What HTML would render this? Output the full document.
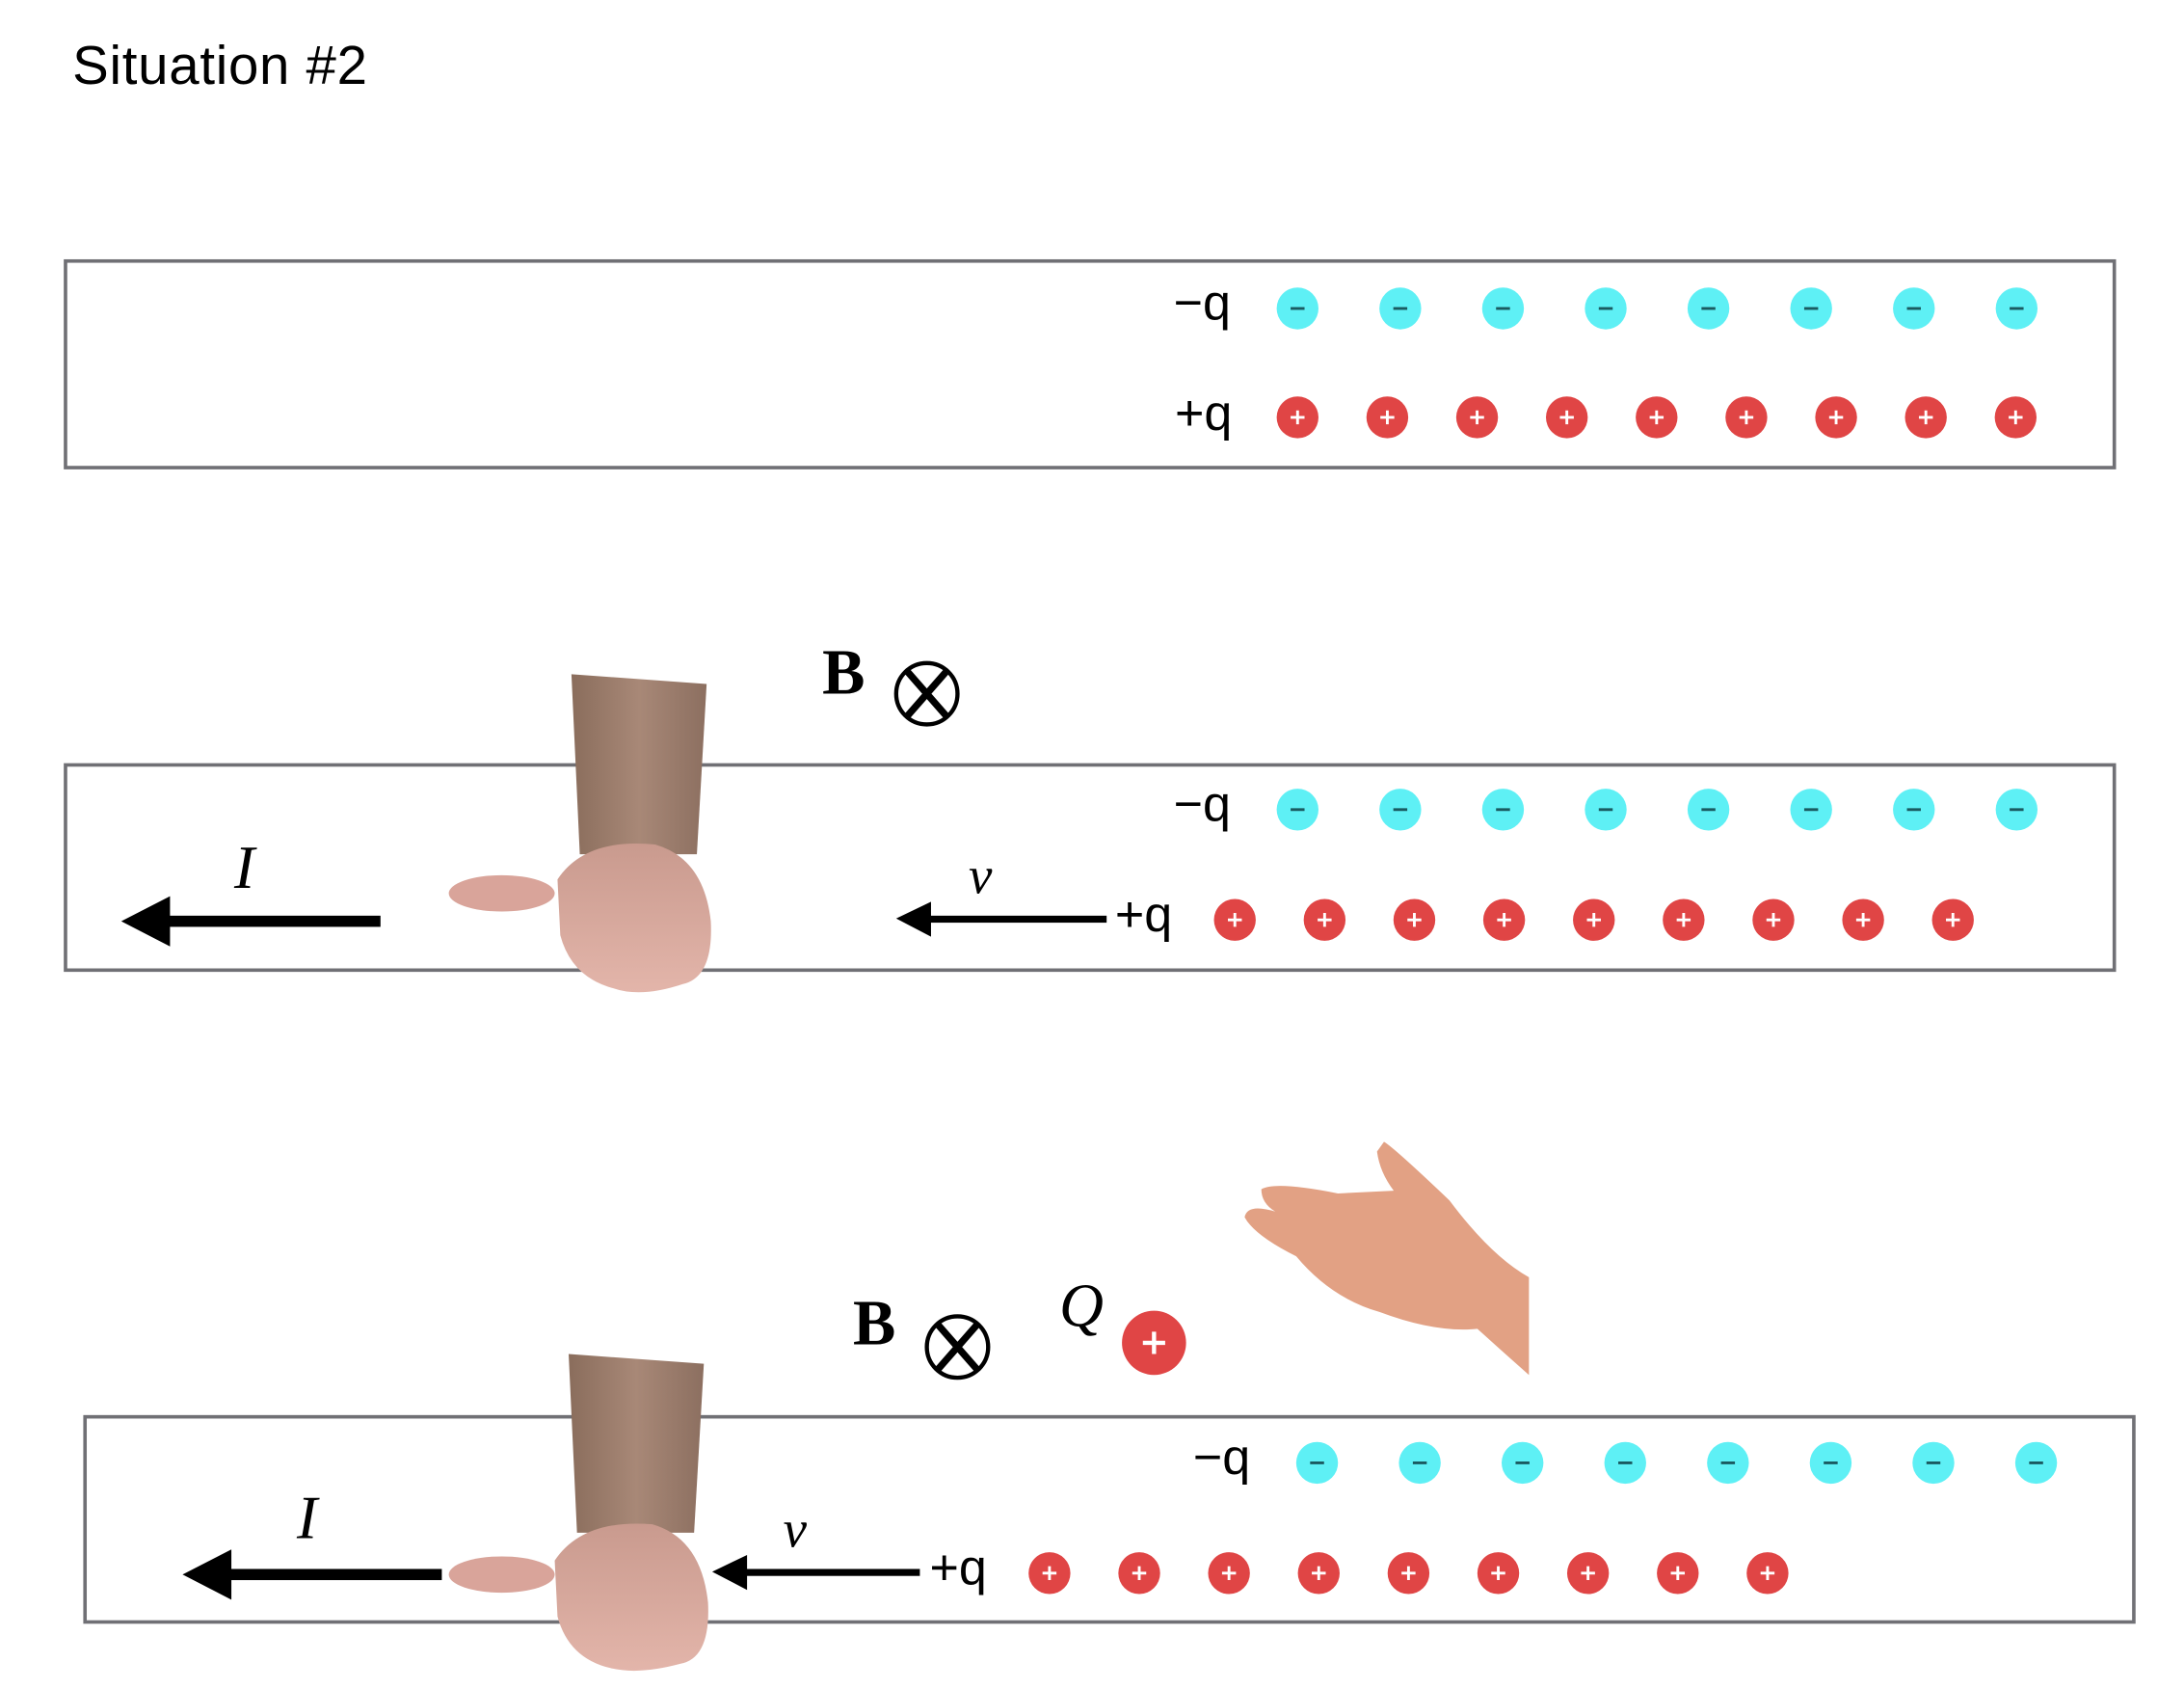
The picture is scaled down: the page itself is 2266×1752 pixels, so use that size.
<!DOCTYPE html>
<html><head><meta charset="utf-8"><style>
html,body{margin:0;padding:0;background:#fff}
svg{display:block}
text{font-family:"Liberation Sans",sans-serif}
.serif{font-family:"Liberation Serif",serif}
</style></head><body>
<svg id="fig" width="2266" height="1752" viewBox="0 0 1567 1210" preserveAspectRatio="none" xmlns="http://www.w3.org/2000/svg">
<defs>
<linearGradient id="skin" x1="0" x2="1"><stop offset="0" stop-color="#8a6d5c"/><stop offset="0.5" stop-color="#a88877"/><stop offset="1" stop-color="#8c6f60"/></linearGradient>
<linearGradient id="fist" x1="0" y1="0" x2="0" y2="1"><stop offset="0" stop-color="#c99a8e"/><stop offset="1" stop-color="#e3b5aa"/></linearGradient>
</defs>
<text x="52" y="60" font-size="39" letter-spacing="0.5" fill="#000">Situation #2</text>

<rect x="47" y="187" width="1470" height="148" fill="none" stroke="#707075" stroke-width="2.5"/>
<rect x="47" y="548" width="1470" height="147" fill="none" stroke="#707075" stroke-width="2.5"/>
<rect x="61" y="1015" width="1470" height="147" fill="none" stroke="#707075" stroke-width="2.5"/>

<g id="labels">
<text x="842" y="229" font-size="36">−q</text>
<text x="843" y="308" font-size="36">+q</text>
<text x="842" y="588" font-size="36">−q</text>
<text x="800" y="667" font-size="36">+q</text>
<text x="856" y="1056" font-size="36">−q</text>
<text x="667" y="1135" font-size="36">+q</text>
</g>

<g><rect x="118" y="656" width="155" height="8" fill="#000"/><polygon points="87,660 122,642 122,678" fill="#000"/></g>
<text class="serif" x="168" y="636" font-size="44" font-style="italic">I</text>
<g><rect x="664" y="656" width="130" height="5" fill="#000"/><polygon points="643,658 668,646 668,671" fill="#000"/></g>
<text class="serif" x="695" y="640" font-size="38" font-style="italic">v</text>
<g><rect x="162" y="1124" width="155" height="8" fill="#000"/><polygon points="131,1128 166,1110 166,1146" fill="#000"/></g>
<text class="serif" x="213" y="1102" font-size="44" font-style="italic">I</text>
<g><rect x="532" y="1124" width="128" height="5" fill="#000"/><polygon points="511,1126 536,1114 536,1139" fill="#000"/></g>
<text class="serif" x="562" y="1108" font-size="38" font-style="italic">v</text>

<text class="serif" x="590" y="497" font-size="46" font-weight="bold">B</text>
<g transform="translate(665,497)"><circle r="22" fill="#fff" stroke="#000" stroke-width="3"/><path d="M-14,-16 L14,16 M14,-16 L-14,16" stroke="#000" stroke-width="5"/></g>
<text class="serif" x="612" y="963" font-size="46" font-weight="bold">B</text>
<g transform="translate(687,965)"><circle r="22" fill="#fff" stroke="#000" stroke-width="3"/><path d="M-14,-16 L14,16 M14,-16 L-14,16" stroke="#000" stroke-width="5"/></g>
<text class="serif" x="760" y="950" font-size="44" font-style="italic">Q</text>
<g transform="translate(828,962)"><circle r="23" fill="#e04545"/><path d="M-8,0H8M0,-8V8" stroke="#fff" stroke-width="3"/></g>

<g id="fist1">
<polygon points="410,483 507,490 500,612 416,612" fill="url(#skin)"/>
<path d="M400,630 Q420,600 470,605 Q505,615 510,660 Q512,700 490,705 Q460,715 440,708 Q410,700 402,670 Z" fill="url(#fist)"/>
<ellipse cx="360" cy="640" rx="38" ry="13" fill="#d9a49a"/>
</g>
<g id="fist2">
<polygon points="408,970 505,977 498,1098 414,1098" fill="url(#skin)"/>
<path d="M398,1118 Q418,1088 468,1092 Q503,1102 508,1148 Q510,1188 488,1192 Q458,1200 438,1195 Q408,1188 400,1158 Z" fill="url(#fist)"/>
<ellipse cx="360" cy="1128" rx="38" ry="13" fill="#d9a49a"/>
</g>
<path d="M993,818 Q1000,822 1040,860 Q1070,900 1097,915 L1097,985 Q1080,970 1060,952 Q1030,955 990,940 Q955,930 930,900 Q900,885 893,872 Q895,862 915,868 Q905,862 905,852 Q915,846 960,855 L1000,853 Q990,840 988,825 Z" fill="#e2a184"/>

<g id="charges"></g>
</svg>
<script>
const panelNegY = [221, 580, 1048];
const panelNegX0 = [931, 931, 945];
const panelPosY = [299, 659, 1127];
const panelPosX0 = [931, 886, 753];
const negCounts = [8, 8, 8];
const posCounts = [9, 9, 9];
const NEG_STEP = 73.7, POS_STEP = 64.4, R = 15;
const NS = "http://www.w3.org/2000/svg";
const g = document.getElementById('charges');
function mk(cx, cy, fill, sign, name) {
  const c = document.createElementNS(NS, 'g');
  c.setAttribute('transform', `translate(${cx},${cy})`);
  
  
  const ci = document.createElementNS(NS, 'circle');
  ci.setAttribute('r', R); ci.setAttribute('fill', fill);
  c.appendChild(ci);
  const p = document.createElementNS(NS, 'path');
  p.setAttribute('d', sign > 0 ? 'M-5,0H5M0,-5V5' : 'M-5,0H5');
  p.setAttribute('stroke', sign > 0 ? '#fff' : '#1a5a60');
  p.setAttribute('stroke-width', '2');
  c.appendChild(p);
  g.appendChild(c);
}
for (let k = 0; k < 3; k++) {
  for (let i = 0; i < negCounts[k]; i++) mk(panelNegX0[k] + i * NEG_STEP, panelNegY[k], '#5ef0f5', -1, 'negative-charge');
  for (let i = 0; i < posCounts[k]; i++) mk(panelPosX0[k] + i * POS_STEP, panelPosY[k], '#e04545', 1, 'positive-charge');
}
</script>
</body></html>
